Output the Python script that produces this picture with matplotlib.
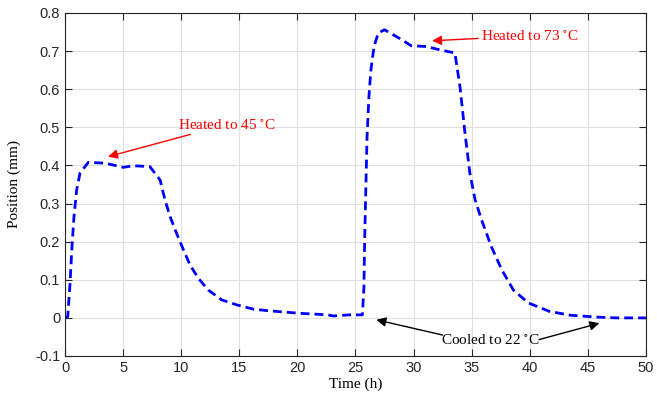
import numpy as np
import matplotlib.pyplot as plt

# time (h) and position (mm)
time_h = [0.0, 0.23, 0.43, 0.58, 0.77, 1.0, 1.29, 2.0, 3.44, 5.0, 5.9, 7.3,
          8.18, 8.6, 9.04, 9.6, 10.2, 10.76, 11.47, 12.33, 13.5, 14.8, 16.2,
          17.4, 20.2, 22.6, 23.1, 24.5, 25.6, 25.73, 25.8, 25.9, 26.0, 26.16,
          26.33, 26.6, 26.96, 27.5, 28.98, 29.8, 31.1, 32.3, 33.56, 34.0, 34.4,
          34.85, 35.3, 35.86, 36.7, 37.6, 38.6, 39.9, 41.7, 43.5, 45.8, 47.5, 50.0]
position_mm = [0.0, 0.003, 0.09, 0.178, 0.266, 0.336, 0.38, 0.408, 0.406,
               0.395, 0.399, 0.397, 0.362, 0.31, 0.266, 0.222, 0.178, 0.139,
               0.104, 0.073, 0.047, 0.034, 0.023, 0.019, 0.012, 0.008, 0.005,
               0.008, 0.008, 0.08, 0.213, 0.345, 0.476, 0.58, 0.65, 0.712, 0.747,
               0.756, 0.73, 0.714, 0.712, 0.703, 0.695, 0.607, 0.493, 0.38, 0.31,
               0.257, 0.187, 0.126, 0.073, 0.039, 0.017, 0.007, 0.002, 0.0, 0.0]

x_ticks = [0, 5, 10, 15, 20, 25, 30, 35, 40, 45, 50]
y_ticks = [-0.1, 0, 0.1, 0.2, 0.3, 0.4, 0.5, 0.6, 0.7, 0.8]

plt.rcParams['mathtext.fontset'] = 'stix'
serif = 'Liberation Serif'

fig = plt.figure(figsize=(6.57, 4.05), dpi=100)
ax = fig.add_axes([0.099, 0.121, 0.884, 0.847])

ax.plot(time_h, position_mm, color='#0000ff', lw=2, dashes=(3.2, 1.8))

ax.set_xlim(0, 50)
ax.set_ylim(-0.1, 0.8)
ax.set_xticks(x_ticks)
ax.set_yticks(y_ticks)
ax.set_xticklabels([str(v) for v in x_ticks])
ax.set_yticklabels(['-0.1', '0', '0.1', '0.2', '0.3', '0.4', '0.5', '0.6', '0.7', '0.8'])
ax.grid(True, color='#e0e0e0', lw=0.8)
ax.set_axisbelow(True)
ax.tick_params(direction='in', top=True, right=True, length=5, labelsize=10.5,
               colors='#262626', labelcolor='#262626')
for lab in ax.get_xticklabels() + ax.get_yticklabels():
    lab.set_family('Liberation Sans')
for s in ax.spines.values():
    s.set_color('#262626')
    s.set_linewidth(0.8)

ax.set_xlabel('Time (h)', family=serif, fontsize=11, labelpad=2)
ax.set_ylabel('Position (mm)', family=serif, fontsize=11, labelpad=10)

red_arrow = dict(arrowstyle='-|>', color='red', lw=1, mutation_scale=14, shrinkA=0, shrinkB=0)
black_arrow = dict(arrowstyle='-|>', color='black', lw=1, mutation_scale=14, shrinkA=0, shrinkB=0)

ax.annotate('Heated to 45 $^{\\circ}$C', xy=(3.7, 0.423), xytext=(9.7, 0.507),
            color='red', family=serif, fontsize=11, va='center', ha='left',
            arrowprops=red_arrow)
ax.annotate('Heated to 73 $^{\\circ}$C', xy=(31.6, 0.727), xytext=(35.8, 0.74),
            color='red', family=serif, fontsize=11, va='center', ha='left',
            arrowprops=red_arrow)
ax.annotate('', xy=(26.8, -0.005), xytext=(32.5, -0.045), arrowprops=black_arrow)
ax.annotate('', xy=(46.0, -0.014), xytext=(40.8, -0.057), arrowprops=black_arrow)
ax.text(36.6, -0.058, 'Cooled to 22 $^{\\circ}$C', family=serif, fontsize=11,
        ha='center', va='center')

fig.savefig('out.png', dpi=100)
